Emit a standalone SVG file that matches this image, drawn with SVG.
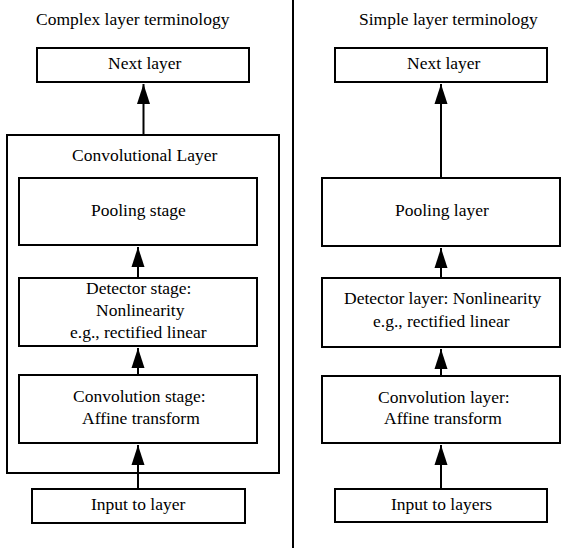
<svg xmlns="http://www.w3.org/2000/svg" width="573" height="556" viewBox="0 0 573 556">
<defs>
<marker id="ah" markerUnits="userSpaceOnUse" markerWidth="22" markerHeight="14" refX="20" refY="7" orient="auto" viewBox="0 0 22 14">
<path d="M0,0.5 L20,7 L0,13.5 z" fill="#000"/>
</marker>
</defs>
<rect width="573" height="556" fill="#fff"/>
<line x1="293" y1="0" x2="293" y2="548" stroke="#000" stroke-width="2"/>
<text x="36" y="25" font-family="Liberation Serif" font-size="17.5">Complex layer terminology</text>
<text x="359" y="25" font-family="Liberation Serif" font-size="17.5">Simple layer terminology</text>
<g id="left-next"><rect x="37" y="48" width="212" height="34" fill="#fff" stroke="#000" stroke-width="2"/><text x="108" y="69" font-family="Liberation Serif" font-size="17.5">Next layer</text></g>
<g id="left-convlayer"><rect x="7" y="135" width="272" height="338" fill="#fff" stroke="#000" stroke-width="2"/><text x="72" y="161" font-family="Liberation Serif" font-size="17.5">Convolutional Layer</text></g>
<g id="left-pool"><rect x="19" y="178" width="238" height="67" fill="#fff" stroke="#000" stroke-width="2"/><text x="91" y="216" font-family="Liberation Serif" font-size="17.5">Pooling stage</text></g>
<g id="left-det"><rect x="19" y="278" width="238" height="68" fill="#fff" stroke="#000" stroke-width="2"/><text x="86" y="294" font-family="Liberation Serif" font-size="17.5">Detector stage:</text><text x="96" y="316" font-family="Liberation Serif" font-size="17.5">Nonlinearity</text><text x="70" y="338" font-family="Liberation Serif" font-size="17.5">e.g., rectified linear</text></g>
<g id="left-conv"><rect x="19" y="375" width="238" height="68" fill="#fff" stroke="#000" stroke-width="2"/><text x="73" y="402" font-family="Liberation Serif" font-size="17.5">Convolution stage:</text><text x="82" y="424" font-family="Liberation Serif" font-size="17.5">Affine transform</text></g>
<g id="left-input"><rect x="32" y="489" width="213" height="34" fill="#fff" stroke="#000" stroke-width="2"/><text x="91" y="510" font-family="Liberation Serif" font-size="17.5">Input to layer</text></g>
<g id="right-next"><rect x="335" y="48" width="212" height="34" fill="#fff" stroke="#000" stroke-width="2"/><text x="407" y="69" font-family="Liberation Serif" font-size="17.5">Next layer</text></g>
<g id="right-pool"><rect x="322" y="178" width="238" height="68" fill="#fff" stroke="#000" stroke-width="2"/><text x="395" y="216" font-family="Liberation Serif" font-size="17.5">Pooling layer</text></g>
<g id="right-det"><rect x="322" y="278" width="238" height="69" fill="#fff" stroke="#000" stroke-width="2"/><text x="344" y="304" font-family="Liberation Serif" font-size="17.5">Detector layer: Nonlinearity</text><text x="373" y="327" font-family="Liberation Serif" font-size="17.5">e.g., rectified linear</text></g>
<g id="right-conv"><rect x="322" y="376" width="238" height="67" fill="#fff" stroke="#000" stroke-width="2"/><text x="378" y="403" font-family="Liberation Serif" font-size="17.5">Convolution layer:</text><text x="384" y="424" font-family="Liberation Serif" font-size="17.5">Affine transform</text></g>
<g id="right-input"><rect x="335" y="489" width="212" height="33" fill="#fff" stroke="#000" stroke-width="2"/><text x="391" y="510" font-family="Liberation Serif" font-size="17.5">Input to layers</text></g>
<g id="connectors" stroke="#000" stroke-width="2" fill="none" marker-end="url(#ah)">
<line x1="143.5" y1="134" x2="143.5" y2="84"/>
<line x1="138" y1="277" x2="138" y2="247"/>
<line x1="138" y1="374" x2="138" y2="348"/>
<line x1="138" y1="488" x2="138" y2="445"/>
<line x1="441" y1="177" x2="441" y2="84"/>
<line x1="441" y1="277" x2="441" y2="248"/>
<line x1="441" y1="375" x2="441" y2="349"/>
<line x1="441" y1="488" x2="441" y2="445"/>
</g>
</svg>
